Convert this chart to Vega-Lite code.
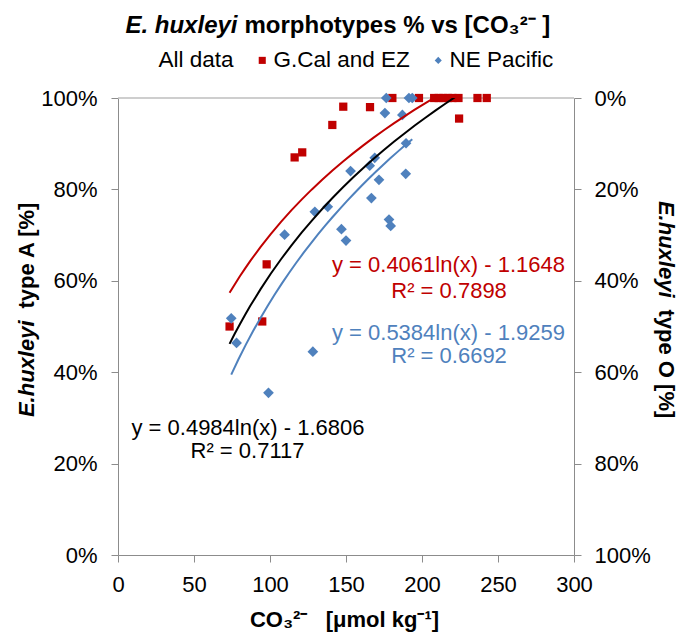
{
  "$schema": "https://vega.github.io/schema/vega-lite/v6.json",
  "width": 456,
  "height": 457,
  "autosize": {"type": "none"},
  "padding": {"left": 118, "top": 98, "right": 104, "bottom": 82},
  "background": "white",
  "config": {
    "font": "Liberation Sans",
    "view": {"stroke": null},
    "axis": {
      "grid": false,
      "labelFlush": false,
      "labelOverlap": false,
      "domainColor": "#8C8C8C",
      "tickColor": "#8C8C8C",
      "labelColor": "black",
      "titleColor": "black",
      "labelFontSize": 22,
      "titleFontSize": 22,
      "titleFontWeight": "bold",
      "labelFont": "Liberation Sans",
      "titleFont": "Liberation Sans"
    }
  },
  "data": {
    "values": [
      {"series": "G.Cal and EZ", "co3": 73.4, "typeA": 0.50},
      {"series": "G.Cal and EZ", "co3": 94.9, "typeA": 0.511},
      {"series": "G.Cal and EZ", "co3": 97.8, "typeA": 0.636},
      {"series": "G.Cal and EZ", "co3": 116.2, "typeA": 0.870},
      {"series": "G.Cal and EZ", "co3": 121.2, "typeA": 0.881},
      {"series": "G.Cal and EZ", "co3": 141.0, "typeA": 0.941},
      {"series": "G.Cal and EZ", "co3": 148.2, "typeA": 0.981},
      {"series": "G.Cal and EZ", "co3": 165.8, "typeA": 0.980},
      {"series": "G.Cal and EZ", "co3": 180.5, "typeA": 1.0},
      {"series": "G.Cal and EZ", "co3": 198.0, "typeA": 1.0},
      {"series": "G.Cal and EZ", "co3": 208.0, "typeA": 1.0},
      {"series": "G.Cal and EZ", "co3": 211.0, "typeA": 1.0},
      {"series": "G.Cal and EZ", "co3": 214.0, "typeA": 1.0},
      {"series": "G.Cal and EZ", "co3": 217.0, "typeA": 1.0},
      {"series": "G.Cal and EZ", "co3": 220.0, "typeA": 1.0},
      {"series": "G.Cal and EZ", "co3": 224.0, "typeA": 1.0},
      {"series": "G.Cal and EZ", "co3": 224.4, "typeA": 0.955},
      {"series": "G.Cal and EZ", "co3": 236.5, "typeA": 1.0},
      {"series": "G.Cal and EZ", "co3": 242.6, "typeA": 1.0},
      {"series": "NE Pacific", "co3": 74.5, "typeA": 0.518},
      {"series": "NE Pacific", "co3": 78.0, "typeA": 0.464},
      {"series": "NE Pacific", "co3": 99.0, "typeA": 0.355},
      {"series": "NE Pacific", "co3": 109.6, "typeA": 0.701},
      {"series": "NE Pacific", "co3": 128.2, "typeA": 0.445},
      {"series": "NE Pacific", "co3": 129.5, "typeA": 0.751},
      {"series": "NE Pacific", "co3": 138.0, "typeA": 0.762},
      {"series": "NE Pacific", "co3": 147.0, "typeA": 0.713},
      {"series": "NE Pacific", "co3": 150.0, "typeA": 0.688},
      {"series": "NE Pacific", "co3": 153.0, "typeA": 0.840},
      {"series": "NE Pacific", "co3": 165.6, "typeA": 0.852},
      {"series": "NE Pacific", "co3": 166.7, "typeA": 0.781},
      {"series": "NE Pacific", "co3": 168.9, "typeA": 0.869},
      {"series": "NE Pacific", "co3": 171.7, "typeA": 0.821},
      {"series": "NE Pacific", "co3": 175.6, "typeA": 0.967},
      {"series": "NE Pacific", "co3": 176.5, "typeA": 1.0},
      {"series": "NE Pacific", "co3": 178.3, "typeA": 0.734},
      {"series": "NE Pacific", "co3": 179.4, "typeA": 0.720},
      {"series": "NE Pacific", "co3": 187.1, "typeA": 0.963},
      {"series": "NE Pacific", "co3": 189.3, "typeA": 0.834},
      {"series": "NE Pacific", "co3": 189.5, "typeA": 0.901},
      {"series": "NE Pacific", "co3": 191.4, "typeA": 1.0},
      {"series": "NE Pacific", "co3": 193.6, "typeA": 1.0}
    ]
  },
  "layer": [
    {
      "data": {"values": [{}]},
      "mark": {"type": "rule", "color": "#BEBEBE", "strokeWidth": 1.5},
      "encoding": {
        "y": {"datum": 1, "type": "quantitative", "scale": {"domain": [0, 1], "nice": false}, "axis": null}
      }
    },
    {
      "mark": {"type": "point", "filled": true, "opacity": 1},
      "encoding": {
        "x": {
          "field": "co3", "type": "quantitative",
          "scale": {"domain": [0, 300], "nice": false, "zero": false},
          "axis": {
            "orient": "bottom", "values": [0, 50, 100, 150, 200, 250, 300],
            "tickSize": 7, "labelPadding": 12,
            "title": "CO₃²⁻\u00a0\u00a0\u00a0[μmol kg⁻¹]",
            "titleX": 226, "titleY": 71, "titleAlign": "center", "titleBaseline": "alphabetic"
          }
        },
        "y": {
          "field": "typeA", "type": "quantitative",
          "scale": {"domain": [0, 1], "nice": false},
          "axis": {
            "orient": "left", "values": [0, 0.2, 0.4, 0.6, 0.8, 1], "format": ".0%",
            "tickSize": 7, "labelPadding": 14,
            "title": "type A [%]", "titleAngle": -90, "titleAlign": "left",
            "titleBaseline": "alphabetic", "titleX": -85, "titleY": 210
          }
        },
        "color": {
          "field": "series", "type": "nominal",
          "scale": {"domain": ["All data", "G.Cal and EZ", "NE Pacific"], "range": ["transparent", "#C00000", "#4F81BD"]},
          "legend": {"orient": "none", "legendX": 18, "legendY": -49, "direction": "horizontal", "title": null, "labelFontSize": 22.5, "labelFont": "Liberation Sans", "labelColor": "black", "symbolSize": 50, "labelOffset": 0, "columnPadding": 17, "padding": 0, "symbolStrokeWidth": 0}
        },
        "shape": {
          "field": "series", "type": "nominal",
          "scale": {"domain": ["All data", "G.Cal and EZ", "NE Pacific"], "range": ["square", "square", "diamond"]},
          "legend": {"orient": "none", "legendX": 18, "legendY": -49, "direction": "horizontal", "title": null, "labelFontSize": 22.5, "labelFont": "Liberation Sans", "labelColor": "black", "symbolSize": 50, "labelOffset": 0, "columnPadding": 17, "padding": 0, "symbolStrokeWidth": 0}
        },
        "size": {
          "condition": {"test": "datum.series === 'NE Pacific'", "value": 115},
          "value": 68
        }
      }
    },
    {
      "transform": [
        {"filter": "datum.series === 'G.Cal and EZ'"},
        {"regression": "typeA", "on": "co3", "method": "log"}
      ],
      "mark": {"type": "line", "color": "#C00000", "strokeWidth": 2, "clip": true},
      "encoding": {
        "x": {"field": "co3", "type": "quantitative", "scale": {"domain": [0, 300], "nice": false, "zero": false}, "axis": null},
        "y": {"field": "typeA", "type": "quantitative", "scale": {"domain": [0, 1], "nice": false}, "axis": null}
      }
    },
    {
      "transform": [
        {"filter": "datum.series === 'NE Pacific'"},
        {"regression": "typeA", "on": "co3", "method": "log"}
      ],
      "mark": {"type": "line", "color": "#4F81BD", "strokeWidth": 2, "clip": true},
      "encoding": {
        "x": {"field": "co3", "type": "quantitative", "scale": {"domain": [0, 300], "nice": false, "zero": false}, "axis": null},
        "y": {"field": "typeA", "type": "quantitative", "scale": {"domain": [0, 1], "nice": false}, "axis": null}
      }
    },
    {
      "transform": [
        {"regression": "typeA", "on": "co3", "method": "log"}
      ],
      "mark": {"type": "line", "color": "black", "strokeWidth": 2, "clip": true},
      "encoding": {
        "x": {"field": "co3", "type": "quantitative", "scale": {"domain": [0, 300], "nice": false, "zero": false}, "axis": null},
        "y": {
          "field": "typeA", "type": "quantitative", "scale": {"domain": [0, 1], "nice": false},
          "axis": {
            "orient": "right", "values": [0, 0.2, 0.4, 0.6, 0.8, 1],
            "labelExpr": "format(1 - datum.value, '.0%')",
            "tickSize": 7, "labelPadding": 13,
            "title": "type O [%]", "titleAngle": 90, "titleAlign": "left",
            "titleBaseline": "alphabetic", "titleX": 84, "titleY": 211
          }
        }
      }
    },
    {
      "data": {"values": [{}]},
      "mark": {"type": "text", "text": "y = 0.4061ln(x) - 1.1648", "color": "#C00000", "fontSize": 22, "align": "center", "baseline": "middle"},
      "encoding": {
        "x": {
          "datum": 217.4, "type": "quantitative", "scale": {"domain": [0, 300], "nice": false, "zero": false},
          "axis": {"orient": "top", "domain": false, "ticks": false, "labels": false, "title": "E. huxleyi", "titleFontStyle": "italic", "titleFontSize": 24, "titleX": 119, "titleY": -66, "titleAlign": "right", "titleBaseline": "alphabetic"}
        },
        "y": {
          "datum": 0.635, "type": "quantitative", "scale": {"domain": [0, 1], "nice": false},
          "axis": {"orient": "left", "domain": false, "ticks": false, "labels": false, "title": "E.huxleyi", "titleFontStyle": "italic", "titleAngle": -90, "titleAlign": "right", "titleBaseline": "alphabetic", "titleX": -85, "titleY": 222}
        }
      }
    },
    {
      "data": {"values": [{}]},
      "mark": {"type": "text", "text": "R² = 0.7898", "color": "#C00000", "fontSize": 22, "align": "center", "baseline": "middle"},
      "encoding": {
        "x": {
          "datum": 217.8, "type": "quantitative", "scale": {"domain": [0, 300], "nice": false, "zero": false},
          "axis": {"orient": "top", "domain": false, "ticks": false, "labels": false, "title": "morphotypes % vs [CO₃²⁻ ]", "titleFontSize": 24, "titleX": 126, "titleY": -66, "titleAlign": "left", "titleBaseline": "alphabetic"}
        },
        "y": {
          "datum": 0.578, "type": "quantitative", "scale": {"domain": [0, 1], "nice": false},
          "axis": {"orient": "right", "domain": false, "ticks": false, "labels": false, "title": "E.huxleyi", "titleFontStyle": "italic", "titleAngle": 90, "titleAlign": "right", "titleBaseline": "alphabetic", "titleX": 84, "titleY": 199}
        }
      }
    },
    {
      "data": {"values": [{}]},
      "mark": {"type": "text", "text": "y = 0.5384ln(x) - 1.9259", "color": "#4F81BD", "fontSize": 22, "align": "center", "baseline": "middle"},
      "encoding": {
        "x": {"datum": 217.4, "type": "quantitative", "scale": {"domain": [0, 300], "nice": false, "zero": false}, "axis": null},
        "y": {"datum": 0.486, "type": "quantitative", "scale": {"domain": [0, 1], "nice": false}, "axis": null}
      }
    },
    {
      "data": {"values": [{}]},
      "mark": {"type": "text", "text": "R² = 0.6692", "color": "#4F81BD", "fontSize": 22, "align": "center", "baseline": "middle"},
      "encoding": {
        "x": {"datum": 217.8, "type": "quantitative", "scale": {"domain": [0, 300], "nice": false, "zero": false}, "axis": null},
        "y": {"datum": 0.435, "type": "quantitative", "scale": {"domain": [0, 1], "nice": false}, "axis": null}
      }
    },
    {
      "data": {"values": [{}]},
      "mark": {"type": "text", "text": "y = 0.4984ln(x) - 1.6806", "color": "black", "fontSize": 22, "align": "center", "baseline": "middle"},
      "encoding": {
        "x": {"datum": 85.5, "type": "quantitative", "scale": {"domain": [0, 300], "nice": false, "zero": false}, "axis": null},
        "y": {"datum": 0.278, "type": "quantitative", "scale": {"domain": [0, 1], "nice": false}, "axis": null}
      }
    },
    {
      "data": {"values": [{}]},
      "mark": {"type": "text", "text": "R² = 0.7117", "color": "black", "fontSize": 22, "align": "center", "baseline": "middle"},
      "encoding": {
        "x": {"datum": 85.2, "type": "quantitative", "scale": {"domain": [0, 300], "nice": false, "zero": false}, "axis": null},
        "y": {"datum": 0.2276, "type": "quantitative", "scale": {"domain": [0, 1], "nice": false}, "axis": null}
      }
    }
  ],
  "resolve": {"axis": {"x": "independent", "y": "independent"}}
}
